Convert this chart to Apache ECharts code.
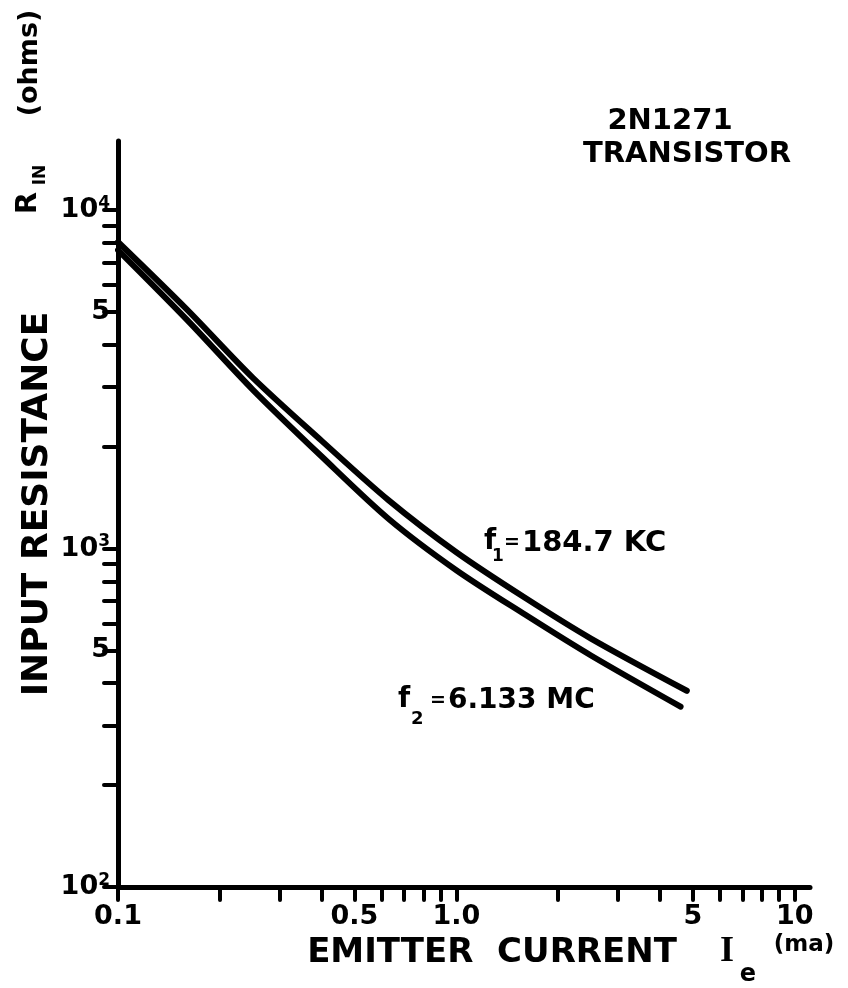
<!DOCTYPE html>
<html><head><meta charset="utf-8">
<script src="https://cdn.jsdelivr.net/npm/echarts@6/dist/echarts.min.js"></script>
<style>html,body{margin:0;padding:0;background:#fff}#c{width:848px;height:988px}</style>
</head><body><div id="c"></div>
<script>
// ---- data ----
const f1Current    = [0.1, 0.16, 0.25, 0.4, 0.63, 1.0, 1.6, 2.5, 4.8];
const f1Resistance = [8050, 5080, 3200, 2080, 1390, 975, 714, 542, 380];
const f2Current    = [0.1, 0.16, 0.25, 0.4, 0.63, 1.0, 1.6, 2.5, 4.6];
const f2Resistance = [7620, 4740, 2950, 1870, 1225, 863, 637, 483, 341];

// ---- axes ----
const xMin = 0.1, xMax = 11.1, yMin = 100, yMax = 16000;
const xTickValues  = [0.1,0.2,0.3,0.4,0.5,0.6,0.7,0.8,0.9,1,2,3,4,5,6,7,8,9,10];
const xLabelValues = [0.1, 0.5, 1, 5, 10];
const xLabelTexts  = ['0.1', '0.5', '1.0', '5', '10'];
const yTickValues  = [100,200,300,400,500,600,700,800,900,1000,2000,3000,4000,5000,6000,7000,8000,9000,10000];
const yLabelValues = [100, 500, 1000, 5000, 10000];
const yLabelMain   = ['10', '5', '10', '5', '10'];
const yLabelSup    = ['2', '', '3', '', '4'];

const FONT = '"DejaVu Sans", "Liberation Sans", sans-serif';
const lg = v => Math.log10(v);
const EPS = 1e-9;

function findIdx(vals, v) {
  for (let i = 0; i < vals.length; i++) if (Math.abs(lg(vals[i]) - v) < 1e-6) return i;
  return -1;
}

const lineStyle = {color: '#000', width: 6, cap: 'round', join: 'round'};
const tickStyle = {color: '#000', width: 4, cap: 'round'};

function txt(x, y, text, size, opts) {
  opts = opts || {};
  return {
    type: 'text', x: x, y: y, rotation: opts.rot || 0, silent: true,
    style: {
      text: text, fill: '#000',
      font: 'bold ' + size + 'px ' + (opts.family || FONT),
      fontSize: size, fontWeight: 'bold', fontFamily: opts.family || FONT,
      textAlign: opts.align || 'center', align: opts.align || 'center',
      textVerticalAlign: 'middle', verticalAlign: 'middle'
    }
  };
}

const chart = echarts.init(document.getElementById('c'), null, {renderer: 'canvas'});
chart.setOption({
  animation: false,
  backgroundColor: '#fff',
  grid: {left: 118, right: 38, top: 141, bottom: 101, containLabel: false, outerBoundsMode: 'none'},
  xAxis: [
    {type: 'log', min: xMin, max: xMax, show: false},
    {type: 'value', position: 'bottom', min: lg(xMin) - EPS, max: lg(xMax),
     axisLine: {show: true, onZero: false, lineStyle: {color: '#000', width: 5}},
     axisTick: {show: true, length: 13, inside: false, lineStyle: tickStyle,
                customValues: xTickValues.map(lg)},
     axisLabel: {show: true, margin: 16, customValues: xLabelValues.map(lg),
                 color: '#000', fontFamily: FONT, fontWeight: 'bold', fontSize: 27,
                 formatter: v => { const i = findIdx(xLabelValues, v); return i >= 0 ? xLabelTexts[i] : ''; }},
     splitLine: {show: false}, minorTick: {show: false}}
  ],
  yAxis: [
    {type: 'log', min: yMin, max: yMax, show: false},
    {type: 'value', position: 'left', min: lg(yMin) - EPS, max: lg(yMax),
     axisLine: {show: true, onZero: false, lineStyle: {color: '#000', width: 5}},
     axisTick: {show: true, length: 14, inside: false, lineStyle: tickStyle,
                customValues: yTickValues.map(lg)},
     axisLabel: {show: true, margin: 8, customValues: yLabelValues.map(lg),
                 color: '#000', fontFamily: FONT, fontWeight: 'bold', fontSize: 26,
                 formatter: v => {
                   const i = findIdx(yLabelValues, v);
                   if (i < 0) return '';
                   return yLabelSup[i] ? '{n|' + yLabelMain[i] + '}{s|' + yLabelSup[i] + '}' : '{n|' + yLabelMain[i] + '}';
                 },
                 rich: {
                   n: {fontFamily: FONT, fontWeight: 'bold', fontSize: 27, color: '#000', lineHeight: 30},
                   s: {fontFamily: FONT, fontWeight: 'bold', fontSize: 17, color: '#000', lineHeight: 14, verticalAlign: 'top'}
                 }},
     splitLine: {show: false}, minorTick: {show: false}}
  ],
  series: [
    {name: 'f1 = 184.7 KC', type: 'line', xAxisIndex: 0, yAxisIndex: 0, smooth: 0.3,
     showSymbol: false, symbol: 'none', lineStyle: lineStyle,
     data: f1Current.map((x, i) => [x, f1Resistance[i]])},
    {name: 'f2 = 6.133 MC', type: 'line', xAxisIndex: 0, yAxisIndex: 0, smooth: 0.3,
     showSymbol: false, symbol: 'none', lineStyle: lineStyle,
     data: f2Current.map((x, i) => [x, f2Resistance[i]])}
  ],
  graphic: {elements: [
    txt(670, 121, '2N1271', 29),
    txt(687, 154, 'TRANSISTOR', 29),
    // f1 label
    txt(484, 542, 'f', 28, {align: 'left'}),
    txt(492, 557, '1', 17, {align: 'left'}),
    txt(504, 543, '=', 19, {align: 'left'}),
    txt(522, 543, '184.7 KC', 29, {align: 'left'}),
    // f2 label
    txt(398, 700, 'f', 28, {align: 'left'}),
    txt(411, 719, '2', 18, {align: 'left'}),
    txt(430, 701, '=', 19, {align: 'left'}),
    txt(448, 701, '6.133 MC', 28, {align: 'left'}),
    // y axis title
    txt(38, 504, 'INPUT RESISTANCE', 36, {rot: Math.PI / 2}),
    txt(28, 203, 'R', 29, {rot: Math.PI / 2}),
    txt(41, 175, 'IN', 17, {rot: Math.PI / 2}),
    txt(30, 63, '(ohms)', 27, {rot: Math.PI / 2}),
    // x axis title
    txt(492, 953, 'EMITTER  CURRENT', 34),
    txt(727, 952, 'I', 36, {family: '"Liberation Serif", serif'}),
    txt(748, 975, 'e', 24),
    txt(804, 945, '(ma)', 23)
  ]}
});
</script>
</body></html>
